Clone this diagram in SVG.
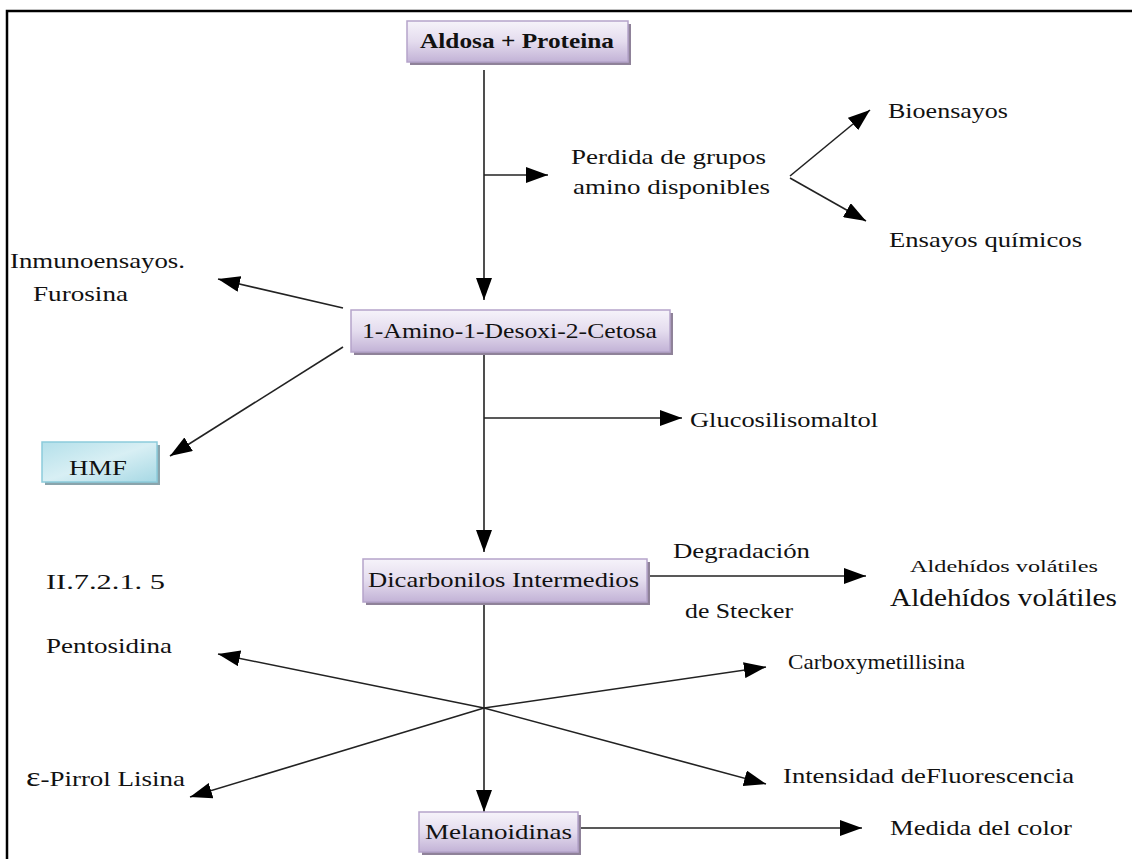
<svg xmlns="http://www.w3.org/2000/svg" width="1132" height="859" viewBox="0 0 1132 859">
<defs>
<linearGradient id="gp" x1="0" y1="0" x2="0" y2="1">
<stop offset="0" stop-color="#f6f3fa"/>
<stop offset="0.5" stop-color="#e4dcee"/>
<stop offset="1" stop-color="#c2b2d6"/>
</linearGradient>
<linearGradient id="gb" x1="0" y1="0" x2="1" y2="1">
<stop offset="0" stop-color="#b4e0ea"/>
<stop offset="0.5" stop-color="#d8eff4"/>
<stop offset="1" stop-color="#a6d8e4"/>
</linearGradient>
<marker id="ah" markerUnits="userSpaceOnUse" markerWidth="24" markerHeight="16" refX="22" refY="8" orient="auto">
<path d="M0,0 L22,8 L0,16 Z" fill="#000"/>
</marker>
</defs>
<style>
text{font-family:"Liberation Serif","Times New Roman",serif;font-size:22px;fill:#111}
.b{font-weight:bold}
.box{fill:url(#gp);stroke:#b5a4ca;stroke-width:1.5}
.sh{fill:#8f8299}
.ln{stroke:#222;stroke-width:1.6;fill:none}
.ar{stroke:#222;stroke-width:1.6;fill:none;marker-end:url(#ah)}
</style>
<rect width="1132" height="859" fill="#fff"/>
<path d="M7,859 V11 H1132" fill="none" stroke="#000" stroke-width="2.5"/>

<g id="connectors">
<line class="ar" x1="484" y1="70" x2="484" y2="300"/>
<line class="ar" x1="484" y1="175" x2="548" y2="175"/>
<line class="ar" x1="790" y1="176" x2="870" y2="110"/>
<line class="ar" x1="790" y1="178" x2="866" y2="221"/>
<line class="ar" x1="343" y1="308" x2="218" y2="279"/>
<line class="ar" x1="343" y1="347" x2="170" y2="456"/>
<line class="ar" x1="484" y1="352" x2="484" y2="552"/>
<line class="ar" x1="484" y1="418" x2="682" y2="418"/>
<line class="ar" x1="640" y1="576" x2="866" y2="576"/>
<line class="ar" x1="484" y1="602" x2="484" y2="812"/>
<line class="ar" x1="484" y1="708" x2="218" y2="654"/>
<line class="ar" x1="484" y1="708" x2="766" y2="784"/>
<line class="ar" x1="484" y1="708" x2="766" y2="667"/>
<line class="ar" x1="484" y1="708" x2="190" y2="797"/>
<line class="ar" x1="578" y1="828" x2="862" y2="828"/>
</g>

<g id="n-aldosa">
<rect class="sh" x="410" y="24" width="221" height="41"/>
<rect class="box" x="407" y="21" width="221" height="41"/>
<text class="b" x="517" y="48" text-anchor="middle" textLength="194" lengthAdjust="spacingAndGlyphs">Aldosa + Proteina</text>
</g>
<g id="n-amino">
<rect class="sh" x="354" y="313" width="319" height="42"/>
<rect class="box" x="351" y="310" width="319" height="42"/>
<text x="362" y="338" textLength="295" lengthAdjust="spacingAndGlyphs">1-Amino-1-Desoxi-2-Cetosa</text>
</g>
<g id="n-hmf">
<rect fill="#8aa4ac" x="45" y="445" width="115" height="40"/>
<rect fill="url(#gb)" stroke="#8ccbdb" stroke-width="1.5" x="42" y="442" width="115" height="40"/>
<text x="69" y="475" textLength="58" lengthAdjust="spacingAndGlyphs">HMF</text>
</g>
<g id="n-dicarb">
<rect class="sh" x="366" y="562" width="284" height="43"/>
<rect class="box" x="363" y="559" width="284" height="43"/>
<text x="368" y="587" textLength="271" lengthAdjust="spacingAndGlyphs">Dicarbonilos Intermedios</text>
</g>
<g id="n-melan">
<rect class="sh" x="422" y="815" width="159" height="40"/>
<rect class="box" x="419" y="812" width="159" height="40"/>
<text x="425" y="839" textLength="147" lengthAdjust="spacingAndGlyphs">Melanoidinas</text>
</g>

<g id="n-perdida">
<text x="571" y="164" textLength="195" lengthAdjust="spacingAndGlyphs">Perdida de grupos</text>
<text x="573" y="194" textLength="197" lengthAdjust="spacingAndGlyphs">amino disponibles</text>
</g>
<g id="n-bio"><text x="888" y="118" textLength="120" lengthAdjust="spacingAndGlyphs">Bioensayos</text></g>
<g id="n-ensayos"><text x="889" y="247" textLength="193" lengthAdjust="spacingAndGlyphs">Ensayos químicos</text></g>
<g id="n-inmuno">
<text x="10" y="268" textLength="175" lengthAdjust="spacingAndGlyphs">Inmunoensayos.</text>
<text x="33" y="301" textLength="95" lengthAdjust="spacingAndGlyphs">Furosina</text>
</g>
<g id="n-gluco"><text x="690" y="427" textLength="188" lengthAdjust="spacingAndGlyphs">Glucosilisomaltol</text></g>
<g id="n-label"><text x="46" y="589" textLength="119" lengthAdjust="spacingAndGlyphs">II.7.2.1. 5</text></g>
<g id="n-degrad">
<text x="673" y="558" textLength="137" lengthAdjust="spacingAndGlyphs">Degradación</text>
<text x="685" y="618" textLength="108" lengthAdjust="spacingAndGlyphs">de Stecker</text>
</g>
<g id="n-aldehidos">
<text x="910" y="572" style="font-size:17px" textLength="188" lengthAdjust="spacingAndGlyphs">Aldehídos volátiles</text>
<text x="890" y="606" style="font-size:26px" textLength="227" lengthAdjust="spacingAndGlyphs">Aldehídos volátiles</text>
</g>
<g id="n-pento"><text x="46" y="653" textLength="126" lengthAdjust="spacingAndGlyphs">Pentosidina</text></g>
<g id="n-pirrol"><text x="26" y="786" textLength="159" lengthAdjust="spacingAndGlyphs"><tspan style="font-size:28px">ε</tspan>-Pirrol Lisina</text></g>
<g id="n-carboxy"><text x="788" y="669" textLength="177" lengthAdjust="spacingAndGlyphs">Carboxymetillisina</text></g>
<g id="n-intens"><text x="783" y="783" textLength="291" lengthAdjust="spacingAndGlyphs">Intensidad deFluorescencia</text></g>
<g id="n-medida"><text x="890" y="835" textLength="182" lengthAdjust="spacingAndGlyphs">Medida del color</text></g>
</svg>
